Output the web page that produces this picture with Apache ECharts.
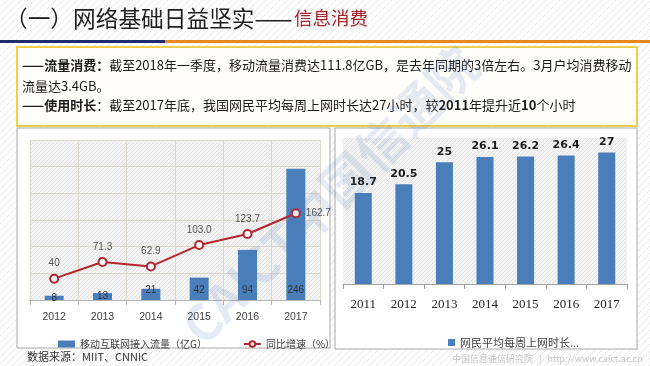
<!DOCTYPE html>
<html><head><meta charset="utf-8">
<script src="https://cdn.jsdelivr.net/npm/echarts@6/dist/echarts.min.js"></script>
<style>html,body{margin:0;padding:0;background:#fff}#c{width:650px;height:366px}</style>
</head><body><div id="c"></div>
<script>
// ---- data ----
const trafficYears = ['2012', '2013', '2014', '2015', '2016', '2017'];
const trafficValues = [8, 13, 21, 42, 94, 246];
const growthValues = [40, 71.3, 62.9, 103.0, 123.7, 162.7];
const growthLabels = ['40', '71.3', '62.9', '103.0', '123.7', '162.7'];
const trafficName = '移动互联网接入流量（亿G）';
const growthName = '同比增速（%）';
const hoursYears = ['2011', '2012', '2013', '2014', '2015', '2016', '2017'];
const hoursValues = [18.7, 20.5, 25, 26.1, 26.2, 26.4, 27];
const hoursLabels = ['18.7', '20.5', '25', '26.1', '26.2', '26.4', '27'];
const hoursName = '网民平均每周上网时长...';

function hatch(bg, line, size) {
  const c = document.createElement('canvas');
  c.width = c.height = size;
  const g = c.getContext('2d');
  g.fillStyle = bg; g.fillRect(0, 0, size, size);
  g.strokeStyle = line; g.lineWidth = 1;
  g.beginPath();
  g.moveTo(0, size); g.lineTo(size, 0);
  g.moveTo(-1, 1); g.lineTo(1, -1);
  g.moveTo(size - 1, size + 1); g.lineTo(size + 1, size - 1);
  g.stroke();
  return c;
}
const slideHatch = { image: hatch('#ffffff', '#e8e8e8', 7), repeat: 'repeat' };
const plotHatch = { image: hatch('#f4f4f4', '#e3e3e3', 4), repeat: 'repeat' };

const CJK = '"Noto Sans CJK SC", "Noto Sans", sans-serif';
const chart = echarts.init(document.getElementById('c'), null, { renderer: 'canvas' });

const option = {
  backgroundColor: '#ffffff',
  animation: false,
  graphic: [
    { type: 'rect', z: -10, shape: { x: 0, y: 0, width: 650, height: 366 }, style: { fill: slideHatch } },
    { type: 'text', z: 5, left: 5, top: 7, style: { text: '（一）网络基础日益坚实——', font: '22.7px ' + CJK, fill: '#1e1e1e' } },
    { type: 'text', z: 5, left: 294, top: 9, style: { text: '信息消费', font: '18.5px ' + CJK, fill: '#a9232b' } },
    { type: 'rect', z: 5, shape: { x: 0, y: 40, width: 165, height: 3 }, style: { fill: '#1f2d6c' } },
    { type: 'rect', z: 5, shape: { x: 165, y: 40, width: 485, height: 3 }, style: { fill: '#e8891f' } },
    { type: 'rect', z: -8, shape: { x: 17, y: 47, width: 620, height: 79 }, style: { fill: '#fffefa', stroke: '#f0cf4a', lineWidth: 2 } },
    { type: 'text', z: 5, left: 22, top: 59, style: {
      text: '{b|——流量消费：}{n|截至2018年一季度，移动流量消费达111.8亿GB，是去年同期的3倍左右。3月户均消费移动}',
      rich: { b: { font: 'bold 13px ' + CJK, fill: '#1a1a1a' }, n: { font: '13px ' + CJK, fill: '#1a1a1a' } } } },
    { type: 'text', z: 5, left: 22, top: 80, style: { text: '流量达3.4GB。', font: '13px ' + CJK, fill: '#1a1a1a' } },
    { type: 'text', z: 5, left: 22, top: 99, style: {
      text: '{b|——使用时长}{n|：截至2017年底，我国网民平均每周上网时长达27小时，较}{b|2011}{n|年提升近}{b|10}{n|个小时}',
      rich: { b: { font: 'bold 13px ' + CJK, fill: '#1a1a1a' }, n: { font: '13px ' + CJK, fill: '#1a1a1a' } } } },
    { type: 'rect', z: -8, shape: { x: 17, y: 128, width: 313, height: 220 }, style: { fill: '#ffffff', stroke: '#a8a8a8', lineWidth: 1 } },
    { type: 'rect', z: -8, shape: { x: 335, y: 128, width: 302, height: 221 }, style: { fill: '#ffffff', stroke: '#a8a8a8', lineWidth: 1 } },
    { type: 'rect', z: -7, shape: { x: 30, y: 140, width: 290, height: 160 }, style: { fill: plotHatch } },
    { type: 'rect', z: -7, shape: { x: 343, y: 138, width: 284, height: 146 }, style: { fill: plotHatch } },
    { type: 'text', z: 5, left: 27, top: 351, style: { text: '数据来源：MIIT、CNNIC', font: '11px ' + CJK, fill: '#333333' } },
    { type: 'text', z: -9, left: 452, top: 354, style: { text: '中国信息通信研究院   |   http://www.caict.ac.cn   |', font: '9px ' + CJK, fill: '#c4c4c4' } },
    { type: 'text', z: 100, x: 330, y: 195, rotation: Math.PI * 45 / 180,
      style: { text: 'CAICT中国信通院', font: 'bold 50px ' + CJK, fill: 'rgba(80,120,185,0.15)', align: 'center', verticalAlign: 'middle' } }
  ],
  legend: [
    { left: 53, top: 334, itemGap: 36, itemWidth: 17, itemHeight: 7,
      data: [{ name: trafficName, icon: 'rect' }, { name: growthName }],
      textStyle: { fontSize: 10, color: '#404040', fontFamily: CJK } },
    { left: 443, top: 332, itemWidth: 7, itemHeight: 7, data: [{ name: hoursName, icon: 'rect' }],
      textStyle: { fontSize: 11, color: '#404040', fontFamily: CJK } }
  ],
  grid: [
    { left: 30, right: 330, top: 140, bottom: 66 },
    { left: 343, right: 23, top: 138, bottom: 82 }
  ],
  xAxis: [
    { type: 'category', gridIndex: 0, data: trafficYears,
      axisLine: { lineStyle: { color: '#b5b5b5' } },
      axisTick: { show: true, length: 5, lineStyle: { color: '#b5b5b5' } },
      axisLabel: { color: '#404040', fontSize: 10.5, margin: 12, fontFamily: 'Liberation Sans, sans-serif' },
      splitLine: { show: true, lineStyle: { color: '#ddd9c9' } } },
    { type: 'category', gridIndex: 1, data: hoursYears,
      axisLine: { lineStyle: { color: '#a0a0a0' } },
      axisTick: { show: true, length: 5, lineStyle: { color: '#a0a0a0' } },
      axisLabel: { color: '#222222', fontSize: 13, margin: 14, fontFamily: 'Liberation Serif, serif' },
      splitLine: { show: false } }
  ],
  yAxis: [
    { type: 'value', gridIndex: 0, min: 0, max: 300, interval: 50,
      axisLabel: { show: false }, axisLine: { show: false }, axisTick: { show: false },
      splitLine: { show: true, lineStyle: { color: '#ddd9c9' } } },
    { type: 'value', gridIndex: 1, min: 0, max: 30, interval: 10,
      axisLabel: { show: false }, axisLine: { show: false }, axisTick: { show: false },
      splitLine: { show: false } }
  ],
  series: [
    { name: trafficName, type: 'bar', xAxisIndex: 0, yAxisIndex: 0, barWidth: 19,
      itemStyle: { color: '#4a7ebb' },
      label: { show: true, position: 'insideBottom', distance: 5, color: '#333333', fontSize: 10, fontFamily: 'Liberation Sans, sans-serif' },
      data: trafficValues.map(v => ({ value: v, label: { position: v < 15 ? 'inside' : 'insideBottom' } })) },
    { name: growthName, type: 'line', xAxisIndex: 0, yAxisIndex: 0,
      symbol: 'emptyCircle', symbolSize: 8,
      lineStyle: { color: '#b3262d', width: 2 },
      itemStyle: { color: '#b3262d', borderColor: '#b3262d', borderWidth: 2 },
      label: { show: true, position: 'top', color: '#555555', fontSize: 10, fontFamily: 'Liberation Sans, sans-serif',
        formatter: p => growthLabels[p.dataIndex] },
      data: growthValues.map((v, i) => i === growthValues.length - 1 ? { value: v, label: { position: 'right' } } : v) },
    { name: hoursName, type: 'bar', xAxisIndex: 1, yAxisIndex: 1, barWidth: 17,
      itemStyle: { color: '#4a7ebb' },
      label: { show: true, position: 'top', distance: 5, color: '#1a1a1a', fontSize: 11, fontWeight: 'bold',
        fontFamily: 'DejaVu Sans, sans-serif', formatter: p => hoursLabels[p.dataIndex] },
      data: hoursValues }
  ]
};
chart.setOption(option);
</script>
</body></html>
